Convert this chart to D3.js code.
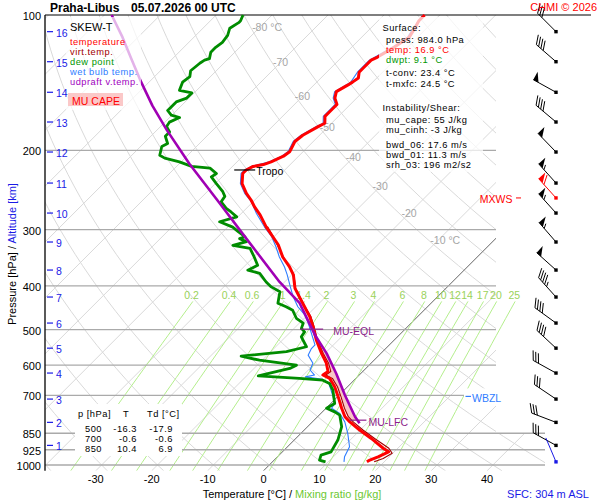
<!DOCTYPE html>
<html lang="cs">
<head>
<meta charset="UTF-8">
<script src="https://d3js.org/d3.v7.min.js"></script>
<style>
  body { margin: 0; background: #fff; }
  text { font-family: "Liberation Sans", Arial, sans-serif; }
</style>
</head>
<body>
<svg id="chart" width="600" height="500"></svg>
<script>
// ---- data read off the sounding ----
// [pressure hPa, value °C]
const temperature = [[984,16.9],[975,17.1],[959,18.0],[935,19.0],[918,17.4],[873,13.5],[836,9.9],[802,6.7],[781,4.9],[748,2.8],[705,0.1],[670,-2.3],[642,-4.7],[631,-6.5],[620,-6.2],[594,-8.0],[565,-10.6],[528,-13.9],[493,-16.9],[468,-19.3],[445,-22.0],[423,-24.7],[405,-27.0],[378,-29.7],[363,-31.8],[345,-34.8],[324,-37.8],[311,-40.2],[296,-43.1],[278,-46.4],[267,-48.8],[258,-50.6],[249,-52.7],[237,-55.2],[225,-56.9],[221,-56.9],[217,-56.3],[215,-54.8],[212,-53.9],[206,-52.7],[201,-52.4],[191,-53.3],[185,-53.0],[177,-51.8],[174,-51.2],[168,-52.4],[163,-52.4],[158,-52.4],[153,-53.9],[148,-54.8],[143,-53.9],[141,-53.6],[138,-53.3],[134,-54.2],[131,-54.2],[126,-54.2],[124,-53.6],[118,-52.4],[112,-51.5],[107,-52.1],[103,-52.7],[100,-52.7]];
const virtTemp = [[984,18.2],[967,19.2],[942,19.9],[918,18.4],[873,14.1],[836,10.5],[802,7.3],[781,5.5],[748,3.3],[705,0.6],[670,-1.8],[642,-4.2],[631,-6.0],[620,-5.7],[594,-7.6],[565,-10.3],[528,-13.7],[493,-16.7],[468,-19.1],[445,-21.9],[423,-24.6],[405,-26.9],[378,-29.6],[345,-34.7],[311,-40.1],[295,-43.0]];
const dewPoint = [[984,9.5],[975,8.1],[951,7.5],[935,8.7],[880,7.8],[822,6.1],[775,3.7],[762,2.2],[748,0.1],[730,0.7],[682,-2.0],[659,-3.8],[648,-5.6],[642,-10.1],[634,-17.9],[610,-13.6],[600,-13.0],[585,-20.5],[573,-24.5],[560,-17.2],[546,-14.5],[519,-17.2],[506,-17.5],[497,-18.7],[484,-19.3],[472,-21.4],[453,-23.5],[445,-25.3],[437,-27.4],[412,-29.1],[402,-31.5],[392,-33.3],[375,-36.0],[369,-38.7],[360,-37.8],[345,-39.9],[330,-42.2],[325,-45.8],[319,-44.0],[314,-45.8],[311,-45.2],[303,-47.3],[296,-49.1],[288,-52.4],[281,-50.2],[274,-52.1],[269,-53.6],[260,-55.7],[253,-56.0],[247,-57.2],[237,-59.8],[229,-61.9],[225,-61.6],[219,-63.7],[217,-67.3],[212,-70.3],[208,-73.6],[205,-75.0],[196,-76.2],[193,-75.7],[186,-77.4],[182,-77.4],[177,-78.9],[173,-79.2],[169,-78.2],[167,-80.1],[163,-81.6],[156,-81.6],[153,-80.4],[149,-80.4],[147,-83.1],[141,-84.0],[137,-83.7],[133,-84.6],[128,-84.3],[126,-84.0],[125,-83.4],[121,-84.3],[118,-84.3],[115,-84.0],[111,-84.3],[107,-85.2],[104,-84.6],[103,-84.6],[100,-85.2]];
const wetBulb = [[984,12.8],[959,12.0],[911,11.1],[851,8.4],[802,5.8],[768,3.4],[748,1.0],[730,0.7],[705,-0.8],[658,-4.0],[645,-5.8],[637,-9.3],[631,-8.0],[615,-9.7],[594,-10.4],[570,-12.7],[551,-13.3],[541,-13.3],[484,-18.4],[464,-20.5],[445,-23.2],[423,-25.8],[401,-28.2],[378,-30.8],[363,-32.7],[345,-35.4],[327,-37.9],[311,-40.4],[296,-43.4],[276,-47.3],[260,-50.3],[249,-53.0],[237,-55.5],[225,-57.2],[221,-57.2],[217,-56.6],[212,-54.2],[206,-53.0],[201,-52.7],[191,-53.6],[185,-53.3],[177,-52.1],[174,-51.5],[168,-52.7],[158,-52.7],[153,-54.2],[148,-55.1],[141,-53.9],[134,-54.5],[126,-54.5],[118,-52.7],[112,-51.8],[107,-52.4],[100,-53.0]];
const parcel = [[808,8.7],[781,6.7],[699,1.0],[626,-4.4],[565,-9.7],[514,-15.1],[437,-23.5],[392,-30.9],[314,-44.6],[262,-55.7],[214,-68.2],[180,-78.3],[159,-85.2],[141,-91.4],[125,-97.4],[112,-102.8],[100,-108.7]];

const pressureTicks = [100, 200, 300, 400, 500, 600, 700, 850, 925, 1000];
const tempTicks = [-30, -20, -10, 0, 10, 20, 30, 40];
const isothermLabels = [-80, -70, -60, -50, -40, -30, -20, -10];
const isothermLabelP = [106.3, 127.2, 151.4, 177.4, 206.8, 239.9, 275.5, 316.3];
const mixingRatios = [0.2, 0.4, 0.6, 1, 1.4, 2, 3, 4, 6, 8, 10, 12, 14, 17, 20, 25];

// altitude (km) and its pressure; winds (deg, kt) at the same levels
const altKm = [1, 2, 3, 4, 5, 6, 7, 8, 9, 10, 11, 12, 13, 14, 15, 16];
const altP = [904.5, 804, 713.7, 624.7, 550, 483.7, 423.4, 368.8, 319.5, 275.5, 236.3, 201.6, 172.9, 148.5, 127, 108.9];
const windDir = [299, 291, 304, 299, 313, 306, 318, 312, 319, 318, 318, 316, 310, 299, 311, 315];
const windSpd = [30, 30, 30, 30, 40, 40, 45, 50, 55, 55, 55, 50, 40, 50, 40, 30];
const maxWind = { p: 255, dir: 318, spd: 60 };
const sfcWind = { p: 984, dir: 337 };

const levels = { tropo: 221, eql: 499, lfc: 795, wbzl: 704 };

const surfaceLines = [
  ["Surface:", "#000", 0], ["press: 984.0 hPa", "#000", 1], ["temp: 16.9 °C", "#ff0000", 1],
  ["dwpt: 9.1 °C", "#009600", 1], ["t-conv: 23.4 °C", "#000", 1], ["t-mxfc: 24.5 °C", "#000", 1],
  ["Instability/Shear:", "#000", 0], ["mu_cape: 55 J/kg", "#000", 1], ["mu_cinh: -3 J/kg", "#000", 1],
  ["bwd_06: 17.6 m/s", "#000", 1], ["bwd_01: 11.3 m/s", "#000", 1], ["srh_03: 196 m2/s2", "#000", 1]
];
const surfaceY = [28, 40, 50, 60, 73, 84, 108, 119.5, 129.5, 145, 155, 165];
const tableP = ["500", "700", "850"];
const tableT = ["-16.3", "-0.6", "10.4"];
const tableTd = ["-17.9", "-0.6", "6.9"];

// ---- scales ----
const svg = d3.select("#chart");
const y = d3.scaleLog().domain([100, 1000]).range([15, 465]);
const pBottom = 1030;
const yBase = y(pBottom);
const tx = d3.scaleLinear().domain([0, 40]).range([263.5, 487.1]);
const X = (T, p) => tx(T) + (yBase - y(p));
const small = 9.3, spacing = 0.5;   // stacked box texts

svg.append("rect").attr("width", 600).attr("height", 500).attr("fill", "#fff");

const defs = svg.append("defs");
defs.append("clipPath").attr("id", "plotClip").append("path")
  .attr("d", `M45,15H496V433H545V${yBase}H45Z`);
defs.append("clipPath").attr("id", "mixClip").append("rect")
  .attr("x", 45).attr("y", 15).attr("width", 500).attr("height", yBase - 15);

const profLine = d3.line().x(d => X(d[1], d[0])).y(d => y(d[0]));

// ---- background grid ----
const grid = svg.append("g").attr("clip-path", "url(#plotClip)");
d3.range(-130, 50, 10).forEach(T => {
  grid.append("line")
    .attr("x1", X(T, pBottom)).attr("y1", yBase).attr("x2", X(T, 100)).attr("y2", 15)
    .attr("stroke", "#d9d9d9").attr("stroke-width", 1);
});
const pSteps = d3.range(0, 41).map(i => pBottom * Math.pow(100 / pBottom, i / 40));
d3.range(-40, 210, 10).forEach(th => {
  const pts = pSteps.map(p => [p, (th + 273.15) * Math.pow(p / 1000, 0.2857) - 273.15]);
  grid.append("path").attr("d", profLine(pts)).attr("fill", "none")
    .attr("stroke", "#d9d9d9").attr("stroke-width", 1);
});
grid.append("line")
  .attr("x1", X(0, pBottom)).attr("y1", yBase).attr("x2", X(0, 100)).attr("y2", 15)
  .attr("stroke", "#555").attr("stroke-width", 0.8);

// mixing ratio lines
const tdOf = (w, p) => {
  const e = w * p / (622 + w), L = Math.log(e / 6.112);
  return 243.5 * L / (17.67 - L);
};
const mix = svg.append("g").attr("clip-path", "url(#mixClip)");
const mixP = d3.range(0, 21).map(i => pBottom * Math.pow(433 / pBottom, i / 20));
mixingRatios.forEach(w => {
  mix.append("path").attr("d", profLine(mixP.map(p => [p, tdOf(w, p)])))
    .attr("fill", "none").attr("stroke", "#b4ee8c").attr("stroke-width", 1);
  svg.append("text").attr("x", X(tdOf(w, 440), 440) + 1).attr("y", y(419))
    .attr("text-anchor", "middle").attr("dominant-baseline", "central")
    .attr("font-size", 10.5).attr("fill", "#9ad25a").text(w);
});

// pressure lines
pressureTicks.forEach(p => {
  svg.append("line").attr("x1", 45).attr("y1", y(p))
    .attr("x2", p === 100 ? 591 : (p >= 850 ? 545 : 496)).attr("y2", y(p))
    .attr("stroke", p === 100 ? "#000" : "#aaa").attr("stroke-width", p === 100 ? 1.2 : 1.3);
  svg.append("text").attr("x", 41).attr("y", y(p) + 1)
    .attr("text-anchor", "end").attr("dominant-baseline", "central")
    .attr("font-size", 11).text(p);
});

// isotherm labels
isothermLabels.forEach((T, i) => {
  const p = isothermLabelP[i];
  svg.append("text").attr("x", X(T, p) - 8).attr("y", y(p))
    .attr("dominant-baseline", "central").attr("font-size", 10.5).attr("fill", "#a6a6a6")
    .text(T + (i === 0 || i === isothermLabels.length - 1 ? " °C" : ""));
});

// table box (bottom left)
svg.append("rect").attr("x", 75).attr("y", 404).attr("width", 107).attr("height", 52).attr("fill", "#fff");
const tb = svg.append("g").attr("font-size", small).attr("letter-spacing", spacing);
tb.append("text").attr("x", 78).attr("y", 414).attr("dominant-baseline", "central").text("p [hPa]");
tb.append("text").attr("x", 126).attr("y", 414).attr("text-anchor", "middle").attr("dominant-baseline", "central").text("T");
tb.append("text").attr("x", 147).attr("y", 414).attr("dominant-baseline", "central").text("Td [°C]");
tableP.forEach((v, i) => {
  const yy = 429 + i * 10;
  [[v, 102], [tableT[i], 137], [tableTd[i], 173]].forEach(([s, xx]) => {
    tb.append("text").attr("x", xx).attr("y", yy).attr("text-anchor", "end")
      .attr("dominant-baseline", "central").text(s);
  });
});

// ---- CAPE area ----
const interp = (prof, p) => {
  for (let i = 0; i < prof.length - 1; i++) {
    const [p1, t1] = prof[i], [p2, t2] = prof[i + 1];
    if ((p <= p1 && p >= p2) || (p >= p1 && p <= p2)) {
      const f = (Math.log(p) - Math.log(p1)) / (Math.log(p2) - Math.log(p1) || 1);
      return t1 + f * (t2 - t1);
    }
  }
  return prof[prof.length - 1][1];
};
const capeP = d3.range(0, 81).map(i => levels.lfc * Math.pow(levels.eql / levels.lfc, i / 80));
svg.append("path")
  .attr("d", d3.area()
    .y(p => y(p))
    .x0(p => X(interp(virtTemp, p), p))
    .x1(p => X(Math.max(interp(parcel, p), interp(virtTemp, p)), p))(capeP))
  .attr("fill", "#f7c6c6");

// ---- profiles ----
const drawProf = (data, color, w) => svg.append("path").attr("d", profLine(data))
  .attr("fill", "none").attr("stroke", color).attr("stroke-width", w)
  .attr("stroke-linejoin", "round");
drawProf(virtTemp, "#a00000", 1.1);
drawProf(wetBulb, "#2f7dff", 1.1);
drawProf(temperature, "#ff0000", 3);
drawProf(dewPoint, "#008c00", 2.8);
drawProf(parcel, "#a000b4", 2.6);

// ---- legend and surface boxes ----
svg.append("rect").attr("x", 66).attr("y", 17).attr("width", 75).attr("height", 93)
  .attr("fill", "#fff").attr("opacity", 0.7);
svg.append("rect").attr("x", 379).attr("y", 17).attr("width", 104).attr("height", 155)
  .attr("fill", "#fff").attr("opacity", 0.72);

const legend = [["SKEW-T", "#000"], ["temperature", "#ff0000"], ["virt.temp.", "#a00000"],
  ["dew point", "#009600"], ["wet bulb temp.", "#2f7dff"], ["udpraft v.temp.", "#a000c0"]];
const legendY = [27, 42.3, 52.3, 62, 72, 82];
legend.forEach(([s, c], i) => {
  svg.append("text").attr("x", 70).attr("y", legendY[i]).attr("dominant-baseline", "central")
    .attr("font-size", i === 0 ? 11 : small).attr("letter-spacing", i === 0 ? 0 : spacing)
    .attr("fill", c).text(s);
});
svg.append("rect").attr("x", 68).attr("y", 93).attr("width", 55).attr("height", 13).attr("fill", "#fbc8c8");
svg.append("text").attr("x", 96).attr("y", 100.5).attr("text-anchor", "middle")
  .attr("dominant-baseline", "central").attr("font-size", 10.5).attr("fill", "#ff0000").text("MU CAPE");

surfaceLines.forEach(([s, c, ind], i) => {
  svg.append("text").attr("x", ind ? 386 : 382.5).attr("y", surfaceY[i])
    .attr("dominant-baseline", "central").attr("font-size", small).attr("letter-spacing", spacing)
    .attr("fill", c).text(s);
});

// ---- level markers ----
const marker = (x1, x2, yy, color, label, lx) => {
  svg.append("line").attr("x1", x1).attr("x2", x2).attr("y1", yy).attr("y2", yy)
    .attr("stroke", color).attr("stroke-width", 1.2);
  svg.append("text").attr("x", lx).attr("y", yy + 1.5).attr("dominant-baseline", "central")
    .attr("font-size", 10.5).attr("fill", color).text(label);
};
const xTropo = X(interp(temperature, levels.tropo), levels.tropo);
marker(xTropo - 12, xTropo + 9, y(levels.tropo), "#000", "Tropo", xTropo + 10);
const xEql = X(interp(parcel, levels.eql), levels.eql);
marker(xEql - 12, xEql + 11, y(levels.eql), "#8c1e8c", "MU-EQL", xEql + 21);
const xLfc = X(interp(parcel, levels.lfc), levels.lfc);
marker(xLfc - 8, xLfc + 9, y(levels.lfc), "#8c1e8c", "MU-LFC", xLfc + 11);
svg.append("rect").attr("x", 464).attr("y", y(levels.wbzl) - 8).attr("width", 45).attr("height", 16).attr("fill", "#fff");
marker(465.5, 471, y(levels.wbzl), "#2f7dff", "WBZL", 472);

// ---- altitude ticks ----
altKm.forEach((k, i) => {
  const yy = y(altP[i]);
  svg.append("line").attr("x1", 47).attr("x2", 53).attr("y1", yy).attr("y2", yy)
    .attr("stroke", "#1a1ae6").attr("stroke-width", 1.2);
  svg.append("text").attr("x", 56).attr("y", yy + 1).attr("dominant-baseline", "central")
    .attr("font-size", 10.5).attr("fill", "#1a1ae6").text(k);
});

// ---- wind barbs ----
const barbX = 556;
function barb(cy, dir, spd, color) {
  const g = svg.append("g");
  const L = 26, a = dir * Math.PI / 180;
  const u = [Math.sin(a), -Math.cos(a)];
  const r = [-u[1], u[0]];
  const P = s => [barbX + u[0] * s, cy + u[1] * s];
  const tip = P(L);
  g.append("line").attr("x1", barbX).attr("y1", cy).attr("x2", tip[0]).attr("y2", tip[1])
    .attr("stroke", color).attr("stroke-width", 1);
  g.append("rect").attr("x", barbX - 1.7).attr("y", cy - 1.7).attr("width", 3.4).attr("height", 3.4).attr("fill", color);
  const d = [r[0] * 0.87 + u[0] * 0.5, r[1] * 0.87 + u[1] * 0.5];
  let s = L, v = Math.round(spd / 5) * 5;
  while (v >= 50) {
    const a0 = P(s), a1 = P(s - 6);
    g.append("path").attr("d", `M${a0}L${a0[0] + r[0] * 9},${a0[1] + r[1] * 9}L${a1}Z`).attr("fill", color);
    s -= 8; v -= 50;
  }
  while (v >= 10) {
    const a0 = P(s);
    g.append("line").attr("x1", a0[0]).attr("y1", a0[1])
      .attr("x2", a0[0] + d[0] * 10).attr("y2", a0[1] + d[1] * 10).attr("stroke", color);
    s -= 3; v -= 10;
  }
  if (v >= 5) {
    if (s === L) s -= 3;
    const a0 = P(s);
    g.append("line").attr("x1", a0[0]).attr("y1", a0[1])
      .attr("x2", a0[0] + d[0] * 5).attr("y2", a0[1] + d[1] * 5).attr("stroke", color);
  }
}
altKm.forEach((k, i) => barb(y(altP[i]), windDir[i], windSpd[i], "#000"));
barb(y(maxWind.p), maxWind.dir, maxWind.spd, "#ff0000");
barb(y(sfcWind.p), sfcWind.dir, 0, "#1a1ae6");
svg.append("text").attr("x", 512.5).attr("y", y(maxWind.p) + 1).attr("text-anchor", "end")
  .attr("dominant-baseline", "central").attr("font-size", 10.5).attr("fill", "#ff0000").text("MXWS");
svg.append("line").attr("x1", 516).attr("x2", 521).attr("y1", y(maxWind.p)).attr("y2", y(maxWind.p))
  .attr("stroke", "#ff0000");

// ---- axes and titles ----
svg.append("line").attr("x1", 45).attr("x2", 45).attr("y1", 15).attr("y2", yBase)
  .attr("stroke", "#000").attr("stroke-width", 1.3);
tempTicks.forEach(T => {
  svg.append("text").attr("x", tx(T)).attr("y", 479).attr("text-anchor", "middle")
    .attr("dominant-baseline", "central").attr("font-size", 11).text(T);
});
const xt = svg.append("text").attr("x", 292).attr("y", 494).attr("text-anchor", "middle")
  .attr("dominant-baseline", "central").attr("font-size", 11);
xt.append("tspan").text("Temperature [°C]  /  ");
xt.append("tspan").attr("fill", "#6cc832").text("Mixing ratio [g/kg]");
const yt = svg.append("text").attr("transform", "translate(12,254) rotate(-90)")
  .attr("text-anchor", "middle").attr("dominant-baseline", "central").attr("font-size", 11);
yt.append("tspan").text("Pressure [hPa]  /  ");
yt.append("tspan").attr("fill", "#1a1ae6").text("Altitude [km]");

svg.append("text").attr("x", 589).attr("y", 494).attr("text-anchor", "end")
  .attr("dominant-baseline", "central").attr("font-size", 11).attr("fill", "#1a1ae6").text("SFC: 304 m ASL");
svg.append("text").attr("x", 50).attr("y", 7.5).attr("dominant-baseline", "central")
  .attr("font-size", 12).attr("font-weight", "bold").text("Praha-Libus");
svg.append("text").attr("x", 131).attr("y", 7.5).attr("dominant-baseline", "central")
  .attr("font-size", 12).attr("font-weight", "bold").text("05.07.2026 00 UTC");
svg.append("text").attr("x", 597).attr("y", 7).attr("text-anchor", "end")
  .attr("dominant-baseline", "central").attr("font-size", 11).attr("fill", "#ff0000").text("CHMI © 2026");
</script>
</body>
</html>
